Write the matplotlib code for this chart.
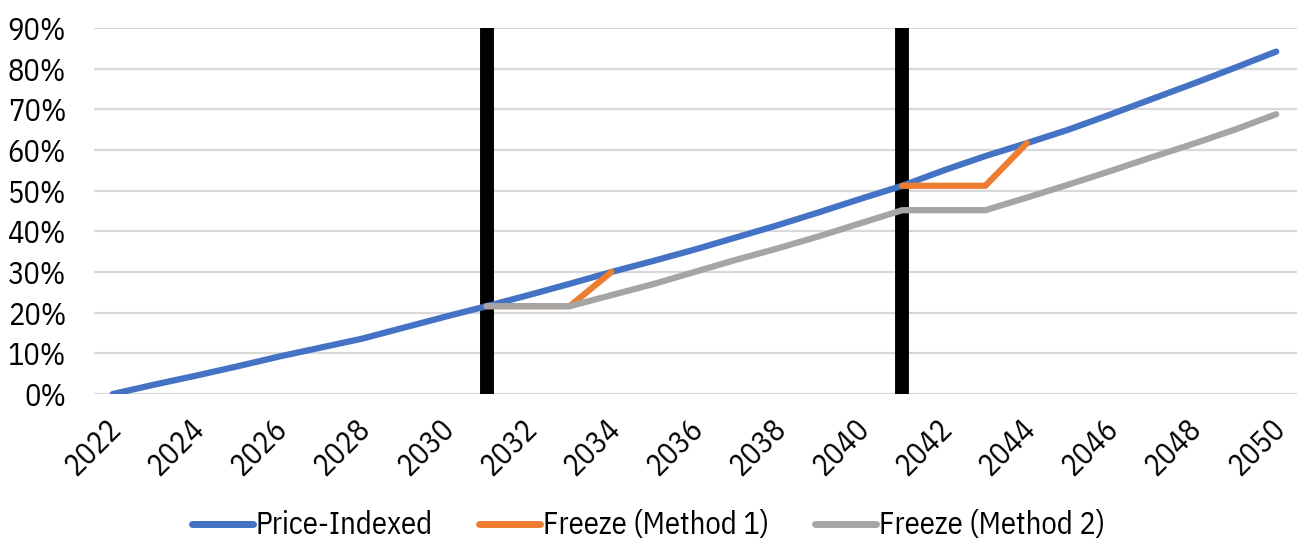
import matplotlib.pyplot as plt
from matplotlib.ticker import PercentFormatter
from matplotlib.transforms import ScaledTranslation

plt.rcParams['font.family'] = ['IBM Plex Sans Condensed', 'DejaVu Sans']

years = list(range(2022, 2051))
price_indexed = [0.0, 2.3, 4.5, 6.8, 9.2, 11.4, 13.6, 16.3, 19.0, 21.6,
                 24.3, 27.1, 30.0, 32.7, 35.5, 38.5, 41.5, 44.7, 48.0, 51.2,
                 55.0, 58.5, 61.7, 65.0, 68.7, 72.5, 76.3, 80.2, 84.2]

m1_years_a = [2031, 2032, 2033, 2034]
m1_vals_a = [21.6, 21.6, 21.6, 30.0]
m1_years_b = [2041, 2042, 2043, 2044]
m1_vals_b = [51.2, 51.2, 51.2, 61.7]

m2_years = list(range(2031, 2051))
m2_vals = [21.6, 21.6, 21.6, 24.3, 27.0, 30.0, 33.0, 35.8, 38.8, 42.0,
           45.2, 45.2, 45.2, 48.3, 51.5, 54.8, 58.2, 61.5, 65.0, 68.8]

freeze_years = [2031, 2041]

BLUE = '#4472C4'
ORANGE = '#ED7D31'
GRAY = '#A5A5A5'

fig = plt.figure(figsize=(12.97, 5.46), dpi=100)
ax = fig.add_axes([94 / 1297, 1 - 394 / 546, 1 - 94 / 1297, (394 - 28) / 546])

ax.grid(axis='y', color='#D9D9D9', linewidth=1.6, zorder=0)
ax.set_axisbelow(True)

for fy in freeze_years:
    ax.axvline(fy, color='black', linewidth=10, zorder=2)

kw = dict(linewidth=4.5, solid_capstyle='round', solid_joinstyle='round')
ax.plot(years, price_indexed, color=BLUE, label='Price-Indexed', zorder=3, **kw)
ax.plot(m1_years_a, m1_vals_a, color=ORANGE, label='Freeze (Method 1)', zorder=4, **kw)
ax.plot(m1_years_b, m1_vals_b, color=ORANGE, zorder=4, **kw)
ax.plot(m2_years, m2_vals, color=GRAY, label='Freeze (Method 2)', zorder=5, **kw)

ax.set_xlim(2021.55, 2050.5)
ax.set_ylim(0, 90)
ax.set_yticks(range(0, 91, 10))
ax.yaxis.set_major_formatter(PercentFormatter(decimals=0))
ax.set_xticks(range(2022, 2051, 2))
for s in ax.spines.values():
    s.set_visible(False)
ax.tick_params(axis='both', length=0, labelsize=22, colors='black')
ax.tick_params(axis='y', pad=20)
ax.tick_params(axis='x', pad=14)
# nudge the slanted year labels a little to the left
shift = ScaledTranslation(-7 / 100, 0, fig.dpi_scale_trans)
for lab in ax.get_xticklabels():
    lab.set_rotation(45)
    lab.set_ha('right')
    lab.set_rotation_mode('anchor')
    lab.set_transform(lab.get_transform() + shift)

leg = fig.legend(loc='lower center', bbox_to_anchor=(0.5, -0.04), ncol=3,
                 frameon=False, fontsize=22, handlelength=2.0,
                 handletextpad=0.1, columnspacing=1.5)
for line in leg.get_lines():
    line.set_linewidth(5)

fig.savefig('out.png', dpi=100)
